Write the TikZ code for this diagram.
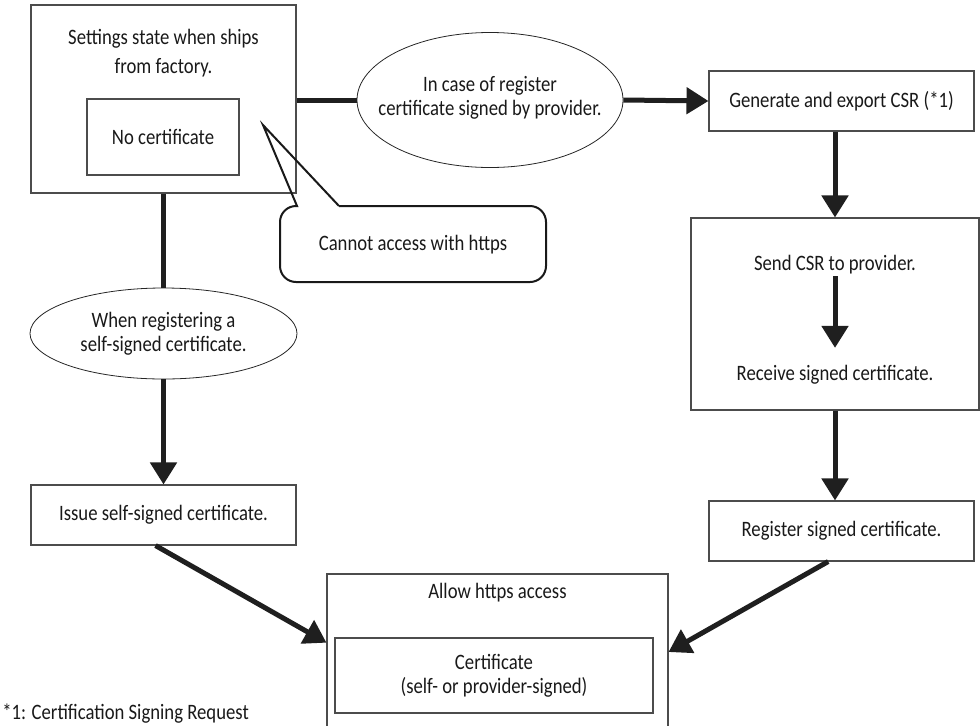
\documentclass[tikz,border=0pt]{standalone}
\usepackage{fontspec}
\setmainfont[FakeStretch=0.85]{Carlito}
\usetikzlibrary{arrows.meta, shapes.geometric}

\tikzset{
  box/.style = {draw=black!70, line width=0.8pt, inner sep=0pt, align=center},
  oval/.style = {ellipse, draw=black!85, line width=0.6pt, inner sep=0pt, align=center},
  txt/.style = {inner sep=1pt, align=center},
  flow/.style = {line width=3.75pt, draw=black!88},
  flowarrow/.style = {flow, -{Triangle[length=16.5pt, width=19.5pt]}},
}

\begin{document}
\begin{tikzpicture}[x=0.75pt, y=-0.75pt, font=\fontsize{16.5}{18}\selectfont, text=black!90]

  % Page frame
  \clip (0,0) rectangle (980,725);

  % Define points for the boxes
  \coordinate (S) at (163.5,99);
  \coordinate (N) at (163,137);
  \coordinate (R) at (490,100);
  \coordinate (G) at (841.5,101);
  \coordinate (C) at (835,314);
  \coordinate (E) at (163.5,333.5);
  \coordinate (I) at (163.5,515);
  \coordinate (K) at (841.5,531);
  \coordinate (A) at (497.5,652);
  \coordinate (Z) at (494,675.5);

  % Draw the boxes
  \node[box, minimum width=198.75pt, minimum height=141pt] (settings) at (S) {};
  \node[txt, font=\fontsize{16.5}{21.75}\selectfont] (settingstxt) at (163.5,53.5)
    {Settings state when ships\\from factory.};
  \node[box, minimum width=114pt, minimum height=57pt] (nocert) at (N) {No certificate};
  \node[oval, minimum width=199.5pt, minimum height=101.25pt] (regprov) at (R) {};
  \node[txt] (regprovtxt) at (490,98) {In case of register\\certificate signed by provider.};
  \node[box, minimum width=198.75pt, minimum height=45pt] (gencsr) at (G)
    {Generate and export CSR (*1)};
  \node[box, minimum width=216pt, minimum height=144pt] (sendbox) at (C) {};
  \node[txt] (sendtxt) at (835,265) {Send CSR to provider.};
  \node[txt] (recvtxt) at (835,375) {Receive signed certificate.};
  \node[oval, minimum width=200.25pt, minimum height=68.25pt] (selfell) at (E)
    {When registering a\\self-signed certificate.};
  \node[box, minimum width=198.75pt, minimum height=45pt] (issue) at (I)
    {Issue self-signed certificate.};
  \node[box, minimum width=198.75pt, minimum height=45pt] (register) at (K)
    {Register signed certificate.};
  \node[box, minimum width=255.75pt, minimum height=117pt] (allow) at (A) {};
  \node[txt] (allowtxt) at (497.5,593) {Allow https access};
  \node[box, minimum width=238.5pt, minimum height=56.25pt] (certbox) at (Z)
    {Certificate\\(self- or provider-signed)};

  % Callout
  \draw[line width=1.5pt, draw=black!90, line join=miter]
    (339,206) -- (263,125) -- (297,206) [rounded corners=12pt] -- (280,206)
    -- (280,282) -- (546,282) -- (546,206) -- (339,206);
  \node[txt] (nohttps) at (413,245) {Cannot access with https};

  % Arrows
  \draw[flow] (settings.east |- regprov.west) -- (regprov.west);
  \draw[flowarrow] (regprov.east) -- (gencsr.west);
  \draw[flowarrow] (sendbox.north |- gencsr.south) -- (sendbox.north);
  \draw[flowarrow] (sendtxt.south) -- ([yshift=12pt]recvtxt.north);
  \draw[flowarrow] (sendbox.south) -- (sendbox.south |- register.north);
  \draw[flowarrow] ([xshift=-10pt]register.south) -- (allow.east);
  \draw[flow] (settings.south) -- (selfell.north);
  \draw[flowarrow] (selfell.south) -- (issue.north);
  \draw[flowarrow] ([xshift=-6pt]issue.south) -- ([yshift=7pt]allow.west);

  % Footnote
  \node[txt, anchor=west, inner sep=0pt] (note) at (2,714) {*1: Certification Signing Request};

\end{tikzpicture}
\end{document}
